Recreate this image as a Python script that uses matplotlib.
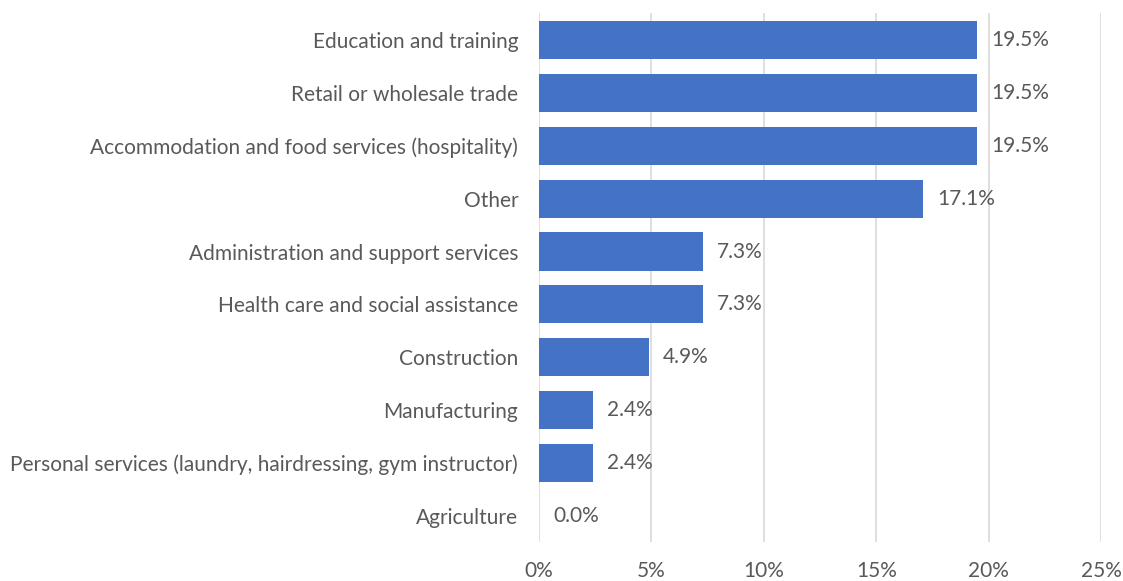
import matplotlib
matplotlib.use("Agg")
import matplotlib.pyplot as plt
from matplotlib.ticker import PercentFormatter

# Share of respondents by industry
industries = [
    "Education and training",
    "Retail or wholesale trade",
    "Accommodation and food services (hospitality)",
    "Other",
    "Administration and support services",
    "Health care and social assistance",
    "Construction",
    "Manufacturing",
    "Personal services (laundry, hairdressing, gym instructor)",
    "Agriculture",
]
shares = [19.5, 19.5, 19.5, 17.1, 7.3, 7.3, 4.9, 2.4, 2.4, 0.0]
x_ticks = [0, 5, 10, 15, 20, 25]

bar_color = "#4472C4"
text_color = "#595959"
grid_color = "#D9D9D9"

plt.rcParams["font.family"] = ["Lato", "DejaVu Sans"]

fig = plt.figure(figsize=(11.23, 5.81), dpi=100)
ax = fig.add_axes([0.48, 0.0663, 0.5004, 0.9105])

pos = list(range(len(industries)))
ax.barh(pos, shares, height=0.72, color=bar_color, zorder=3)
for y, v in zip(pos, shares):
    ax.text(v + 0.62, y, f"{v:.1f}%", va="center", ha="left",
            fontsize=15, color=text_color, zorder=4)

ax.set_ylim(len(industries) - 0.5, -0.5)
ax.set_xlim(0, 25)
ax.set_yticks(pos)
ax.set_yticklabels(industries)
ax.set_xticks(x_ticks)
ax.xaxis.set_major_formatter(PercentFormatter(decimals=0))

ax.tick_params(axis="both", length=0, labelsize=15, labelcolor=text_color)
ax.tick_params(axis="y", pad=15)
ax.tick_params(axis="x", pad=13)
for s in ax.spines.values():
    s.set_visible(False)
ax.grid(axis="x", color=grid_color, linewidth=1.2, zorder=0)

fig.savefig("out.png", dpi=100)
